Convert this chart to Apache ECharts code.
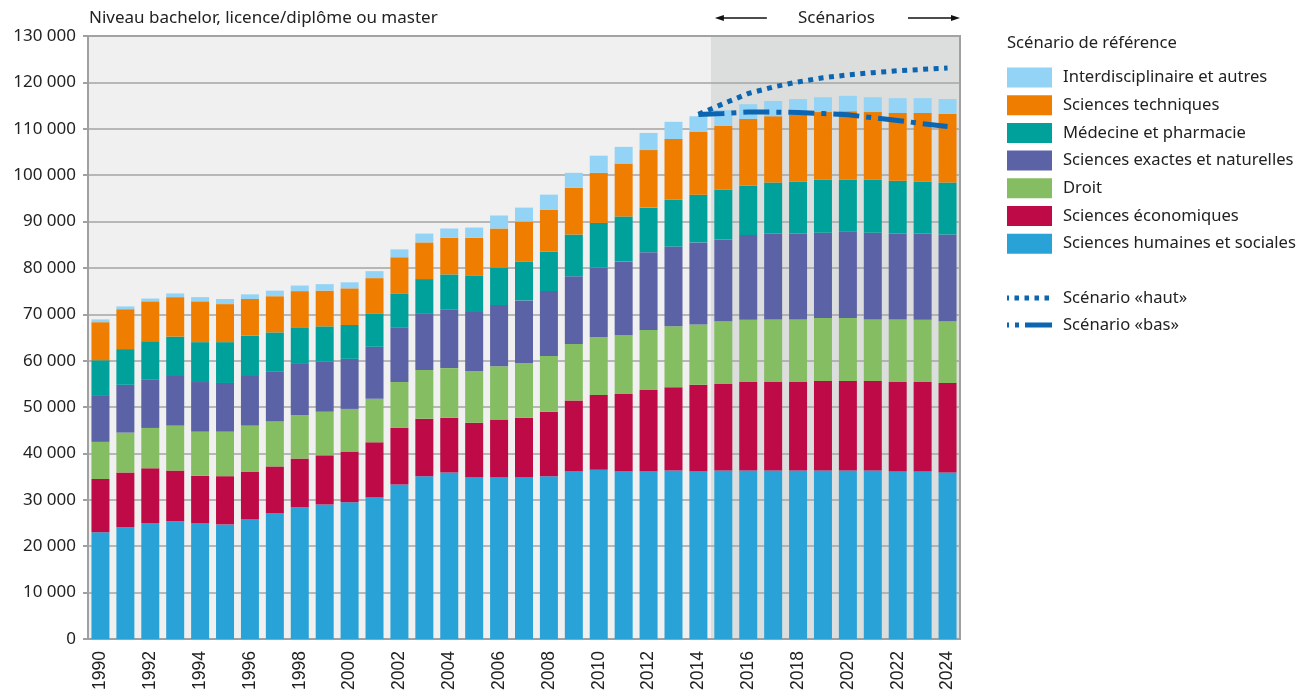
<!DOCTYPE html>
<html>
<head>
<meta charset="utf-8">
<script src="https://cdn.jsdelivr.net/npm/echarts@6/dist/echarts.min.js"></script>
<style>html,body{margin:0;padding:0;background:#fff;}#c{width:1306px;height:696px;}</style>
</head>
<body>
<div id="c"></div>
<script>
const years = ['1990','1991','1992','1993','1994','1995','1996','1997','1998','1999','2000','2001','2002','2003','2004','2005','2006','2007','2008','2009','2010','2011','2012','2013','2014','2015','2016','2017','2018','2019','2020','2021','2022','2023','2024'];
const yTicks = [0,10000,20000,30000,40000,50000,60000,70000,80000,90000,100000,110000,120000,130000];

const humaines = [23000,24100,25000,25400,25000,24700,25800,27100,28400,29000,29500,30500,33300,35100,35900,34800,34800,34800,35100,36100,36500,36100,36100,36300,36100,36300,36300,36300,36300,36300,36300,36300,36100,36100,35900];
const economiques = [11500,11800,11800,10900,10200,10400,10300,10100,10500,10600,10900,11900,12200,12400,11800,11800,12500,12900,13900,15300,16100,16700,17600,18000,18700,18700,19100,19100,19100,19300,19300,19300,19300,19300,19300];
const droit = [8000,8600,8700,9700,9500,9600,9900,9700,9400,9400,9200,9400,9900,10500,10700,11200,11500,11800,12000,12200,12500,12700,12900,13100,13000,13500,13400,13500,13500,13600,13600,13300,13500,13400,13300];
const exactes = [9900,10300,10500,10700,10700,10500,10700,10700,11000,10800,10800,11200,11800,12100,12700,12700,13200,13500,14000,14600,15000,15900,16800,17200,17700,17600,18300,18500,18500,18400,18700,18700,18500,18600,18700];
const medecine = [7700,7700,8200,8500,8600,8800,8700,8500,7900,7600,7300,7200,7200,7500,7500,7900,8100,8400,8500,9000,9600,9700,9600,10100,10300,10800,10600,11000,11200,11400,11100,11400,11400,11200,11200];
const techniques = [8200,8600,8600,8500,8800,8200,7900,7800,7800,7700,7900,7600,7900,7900,7900,8100,8400,8600,9000,10100,10800,11400,12400,13100,13500,13700,14400,14300,14400,14600,14800,14600,14600,14800,14800];
const interdisciplinaire = [600,600,600,800,900,1100,1000,1200,1200,1400,1300,1500,1700,1900,2000,2200,2800,3000,3300,3200,3700,3600,3700,3700,3400,3400,3200,3300,3400,3200,3300,3200,3200,3200,3200];

const scenarioHaut = [null,null,null,null,null,null,null,null,null,null,null,null,null,null,null,null,null,null,null,null,null,null,null,null,113100,115400,117600,119000,120100,121000,121600,122100,122500,122800,123100];
const scenarioBas = [null,null,null,null,null,null,null,null,null,null,null,null,null,null,null,null,null,null,null,null,null,null,null,null,113100,113300,113600,113600,113500,113300,113000,112400,111800,111100,110500];

const barNames = ['Sciences humaines et sociales','Sciences économiques','Droit','Sciences exactes et naturelles','Médecine et pharmacie','Sciences techniques','Interdisciplinaire et autres'];
const lineNames = ['Scénario «haut»','Scénario «bas»'];
const barData = [humaines, economiques, droit, exactes, medecine, techniques, interdisciplinaire];
const barColors = ['#29a3d7','#be0a46','#85bd62','#5c62a6','#00a19a','#ef7d00','#93d3f5'];
const lineColor = '#0b65b0';
const hautDash = [5,5.5];
const basDash = [26,7,5,7];
const FONT = 'Noto Sans';
const FS = 17;

const chart = echarts.init(document.getElementById('c'), null, {renderer:'canvas'});

const series = barNames.map((n,i)=>({
  name:n, type:'bar', stack:'total', data:barData[i], barWidth:18,
  itemStyle:{color:barColors[i]}, emphasis:{disabled:true}, z:3
}));
series.push({
  name:lineNames[0], type:'line', data:scenarioHaut, symbol:'none', z:5,
  lineStyle:{color:lineColor, width:5, type:hautDash}, itemStyle:{color:lineColor}
});
series.push({
  name:lineNames[1], type:'line', data:scenarioBas, symbol:'none', z:5,
  lineStyle:{color:lineColor, width:5, type:basDash}, itemStyle:{color:lineColor}
});

const fmt = v => String(v).replace(/\B(?=(\d{3})+(?!\d))/g, ' ');

chart.setOption({
  animation:false,
  backgroundColor:'#ffffff',
  title:{text:'Niveau bachelor, licence/diplôme ou master', left:84, top:5,
    textStyle:{fontFamily:FONT, fontSize:FS, fontWeight:'normal', color:'#222'}},
  grid:{left:88, right:346, top:36, bottom:57, show:true, backgroundColor:'transparent', borderColor:'#a0a0a0', borderWidth:2, containLabel:false},
  legend:{
    orient:'vertical', left:1007, top:67.5, padding:0, itemWidth:45, itemHeight:20, itemGap:7.7,
    icon:'rect', selectedMode:false,
    data:barNames.slice().reverse(),
    textStyle:{fontFamily:FONT, fontSize:16.6, color:'#222', padding:[0,0,0,6]}
  },
  xAxis:{type:'category', data:years,
    axisLine:{lineStyle:{color:'#a0a0a0', width:2}},
    axisTick:{show:false},
    axisLabel:{interval:1, rotate:90, margin:12, fontFamily:'Liberation Sans', fontSize:17.5, color:'#222'}
  },
  yAxis:{type:'value', min:yTicks[0], max:yTicks[yTicks.length-1], interval:yTicks[1]-yTicks[0],
    axisLine:{show:true, lineStyle:{color:'#a0a0a0', width:2}},
    axisTick:{show:true, length:5, lineStyle:{color:'#a0a0a0', width:2}},
    splitLine:{lineStyle:{color:'#a4a4a4', width:1.6}},
    axisLabel:{formatter:fmt, margin:12, fontFamily:FONT, fontSize:FS, color:'#222'}
  },
  series:series
});

// background shading: history and scenario zones, placed from the axes
const xa = chart.convertToPixel({xAxisIndex:0}, '2014');
const xb = chart.convertToPixel({xAxisIndex:0}, '2015');
const band = xb - xa;
const xFirst = chart.convertToPixel({xAxisIndex:0}, years[0]) - band/2;
const xLast = chart.convertToPixel({xAxisIndex:0}, years[years.length-1]) + band/2;
const yTop = chart.convertToPixel({yAxisIndex:0}, yTicks[yTicks.length-1]);
const yBot = chart.convertToPixel({yAxisIndex:0}, 0);
const xMid = (xa + xb)/2;
const ay = 18;
const lx = 1007, lw = 45;
const font = FS + 'px "Noto Sans"';
const lfont = '16.6px "Noto Sans"';
chart.setOption({
  graphic:[
    {type:'rect', z:-10, silent:true, shape:{x:xFirst, y:yTop, width:xMid-xFirst, height:yBot-yTop}, style:{fill:'#f0f0f0'}},
    {type:'rect', z:-10, silent:true, shape:{x:xMid, y:yTop, width:xLast-xMid, height:yBot-yTop}, style:{fill:'#dcdedd'}},
    {type:'text', z:10, x:lx, y:43, style:{text:'Scénario de référence', font:lfont, fill:'#222', verticalAlign:'middle'}},
    {type:'text', z:10, x:(xMid+xLast)/2 + 1, y:ay, style:{text:'Scénarios', font:font, fill:'#222', align:'center', verticalAlign:'middle'}},
    {type:'line', z:10, shape:{x1:xMid+56, y1:ay, x2:xMid+8, y2:ay}, style:{stroke:'#111', lineWidth:1.5}},
    {type:'polygon', z:10, shape:{points:[[xMid+4,ay],[xMid+13,ay-3],[xMid+13,ay+3]]}, style:{fill:'#111'}},
    {type:'line', z:10, shape:{x1:xLast-52, y1:ay, x2:xLast-6, y2:ay}, style:{stroke:'#111', lineWidth:1.5}},
    {type:'polygon', z:10, shape:{points:[[xLast,ay],[xLast-9,ay-3],[xLast-9,ay+3]]}, style:{fill:'#111'}},
    // line legend entries
    {type:'line', z:10, shape:{x1:lx, y1:298, x2:lx+lw, y2:298}, style:{stroke:lineColor, lineWidth:5, lineDash:[4.5,5.5], lineDashOffset:2.5}},
    {type:'text', z:10, x:1063, y:298, style:{text:lineNames[0], font:lfont, fill:'#222', verticalAlign:'middle'}},
    {type:'line', z:10, shape:{x1:lx, y1:325, x2:lx+lw, y2:325}, style:{stroke:lineColor, lineWidth:5, lineDash:[2,6,4,6,27,100]}},
    {type:'text', z:10, x:1063, y:325, style:{text:lineNames[1], font:lfont, fill:'#222', verticalAlign:'middle'}}
  ]
});
</script>
</body>
</html>
